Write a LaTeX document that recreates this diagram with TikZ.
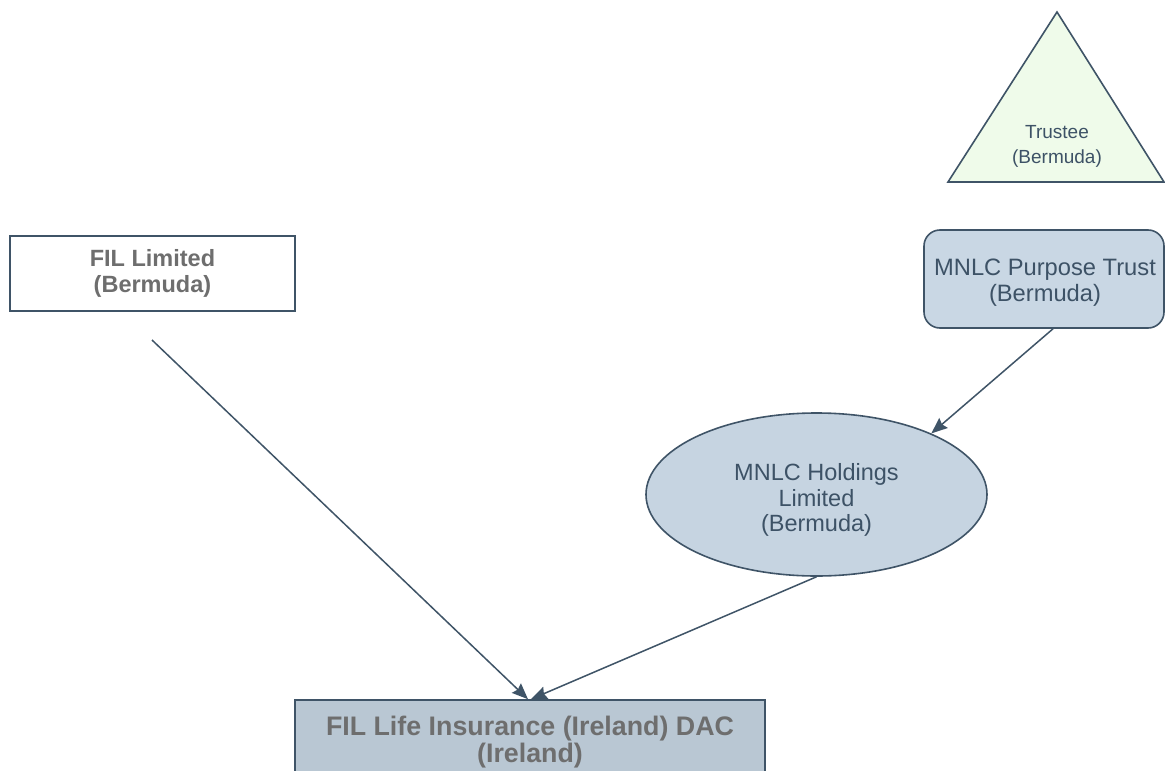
\documentclass[tikz,border=0pt]{standalone}
\usepackage{fontspec}
\setmainfont{Liberation Sans}
\usetikzlibrary{arrows.meta,shapes.geometric}
\definecolor{linec}{HTML}{3F5467}
\definecolor{txtc}{HTML}{3D5266}
\definecolor{graytxt}{HTML}{6E6E6E}
\definecolor{trifill}{HTML}{EFFBEA}
\definecolor{trustfill}{HTML}{C9D7E4}
\definecolor{holdfill}{HTML}{C6D4E1}
\definecolor{lifefill}{HTML}{B9C7D3}
\tikzset{
  conn/.style={draw=linec, line width=1.5pt, -{Stealth[length=16pt,width=13pt,inset=2pt]}},
  box/.style={draw=linec, line width=1.6pt, rectangle, inner sep=0pt},
  lbl/.style={align=center, text=txtc, inner sep=0pt},
  blbl/.style={align=center, text=graytxt, font=\bfseries, inner sep=0pt}
}
\begin{document}
\begin{tikzpicture}[x=1pt,y=-1pt]
\useasboundingbox (0,0) rectangle (1165,771);
\clip (0,0) rectangle (1165,771);
\fill[white] (0,0) rectangle (1165,771);
% Trustee triangle
\coordinate (ta) at (1057,12);
\coordinate (tl) at (948,182);
\coordinate (tr) at (1164,182);
\draw[linec, line width=1.6pt, fill=trifill, line join=miter] (ta) -- (tl) -- (tr) -- cycle;
\node[lbl, font=\fontsize{19}{25}\selectfont] (trustee) at (1057,146) {Trustee\\(Bermuda)};
% FIL Limited
\node[box, fill=white, minimum width=285pt, minimum height=75pt] (fil) at (152.5,273.5) {};
\node[blbl, font=\fontsize{23.5}{26}\selectfont\bfseries] (filt) at (152.5,273) {FIL Limited\\(Bermuda)};
% MNLC Purpose Trust
\node[box, fill=trustfill, rounded corners=16pt, minimum width=240pt, minimum height=98pt] (trust) at (1044,279) {};
\node[lbl, font=\fontsize{23.7}{26}\selectfont] (trustt) at (1045,283) {MNLC Purpose Trust\\(Bermuda)};
% MNLC Holdings
\node[draw=linec, line width=1.6pt, fill=holdfill, ellipse, minimum width=341pt, minimum height=163pt, inner sep=0pt] (hold) at (816.5,494.5) {};
\node[lbl, font=\fontsize{23.5}{25.5}\selectfont] (holdt) at (816.5,500) {MNLC Holdings\\Limited\\(Bermuda)};
% FIL Life Insurance
\node[box, fill=lifefill, minimum width=470pt, minimum height=100pt] (life) at (530,750) {};
\node[blbl, font=\fontsize{26.8}{27}\selectfont\bfseries] (lifet) at (530,742) {FIL Life Insurance (Ireland) DAC\\(Ireland)};
% connectors
\coordinate (filstart) at (152,340);
\draw[conn] (filstart) -- ([xshift=-2pt]life.north);
\draw[conn] ([xshift=9pt]trust.south) -- (hold.28);
\draw[conn] (hold.south) -- ([xshift=1pt]life.north);
\end{tikzpicture}
\end{document}
